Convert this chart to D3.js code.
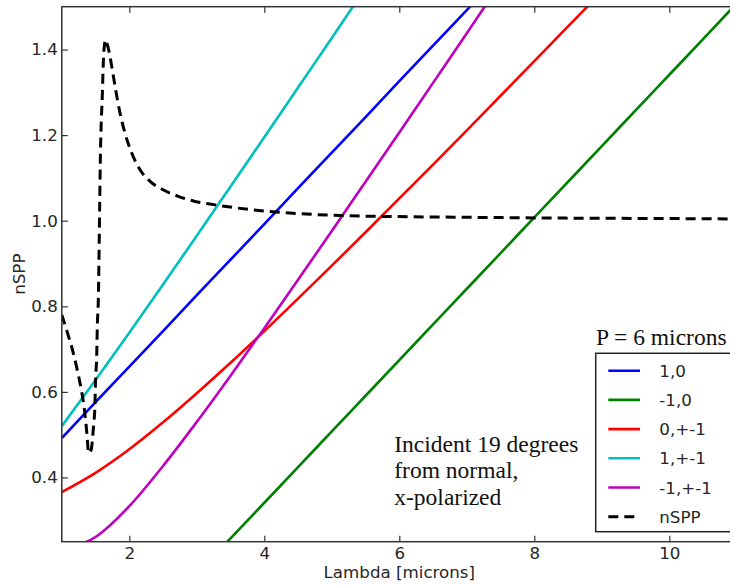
<!DOCTYPE html>
<html>
<head>
<meta charset="utf-8">
<script src="https://cdn.jsdelivr.net/npm/d3@7"></script>
<style>
  body { margin: 0; background: #fff; }
  svg { display: block; }
</style>
</head>
<body>
<script>
// Rayleigh anomaly orders vs SPP index, P = 6 microns grating

// wavelength samples (microns) shared by the diffraction orders
const lambda = [1, 1.5, 2, 2.5, 3, 3.5, 4, 4.5, 5, 5.5, 6, 6.5, 7, 7.5, 8, 8.5, 9, 9.5, 10, 10.5, 11];

// order values
const order10    = [0.492, 0.576, 0.659, 0.742, 0.826, 0.909, 0.992, 1.076, 1.159, 1.242, 1.326, 1.409, 1.492, 1.576];
const orderM10   = [0.159, 0.076, 0.008, 0.091, 0.174, 0.258, 0.341, 0.424, 0.508, 0.591, 0.674, 0.758, 0.841, 0.924, 1.008, 1.091, 1.174, 1.258, 1.341, 1.424, 1.508];
const order0pm1  = [0.366, 0.411, 0.466, 0.529, 0.597, 0.668, 0.742, 0.818, 0.895, 0.973, 1.052, 1.131, 1.211, 1.292, 1.373, 1.454, 1.535];
const order1pm1  = [0.520, 0.628, 0.738, 0.851, 0.965, 1.080, 1.195, 1.311, 1.427, 1.544];
const orderM1pm1 = [0.230, 0.261, 0.333, 0.427, 0.530, 0.638, 0.749, 0.862, 0.976, 1.091, 1.206, 1.322, 1.438, 1.555];

// SPP effective index
const nsppLambda = [1.00, 1.08, 1.16, 1.22, 1.28, 1.33, 1.37, 1.393, 1.433, 1.47, 1.49, 1.50, 1.517, 1.526, 1.541, 1.561, 1.570, 1.581, 1.600, 1.615, 1.630, 1.650,
  1.699, 1.748, 1.798, 1.862, 1.936, 2.036, 2.159, 2.307, 2.480, 2.726, 2.973, 3.27, 3.79, 4.38, 5.12, 5.81, 7.0, 8.5, 10.0, 11.0];
const nsppValues = [0.780, 0.740, 0.697, 0.658, 0.612, 0.565, 0.505, 0.457, 0.464, 0.520, 0.566, 0.628, 0.683, 0.753, 0.815, 1.033, 1.135, 1.213, 1.291, 1.369, 1.408, 1.423,
  1.396, 1.353, 1.306, 1.252, 1.205, 1.158, 1.119, 1.092, 1.074, 1.057, 1.045, 1.037, 1.026, 1.018, 1.012, 1.010, 1.008, 1.006, 1.005, 1.004];

const seriesNames  = ["1,0", "-1,0", "0,+-1", "1,+-1", "-1,+-1", "nSPP"];
const seriesColors = ["#0000ff", "#008000", "#ff0000", "#00bfbf", "#bf00bf", "#000000"];

const xTicks = [2, 4, 6, 8, 10];
const yTicks = [0.4, 0.6, 0.8, 1.0, 1.2, 1.4];

// chart dimensions (right edge runs past the window, as in the original)
const margin = { top: 6.7, left: 61.8 };
const width = 675;
const height = 535;

const svg = d3.select("body")
  .append("svg")
  .attr("width", 730)
  .attr("height", 585);

const g = svg.append("g")
  .attr("transform", "translate(" + margin.left + "," + margin.top + ")");

const xScale = d3.scaleLinear().domain([1, 11]).range([0, width]);
const yScale = d3.scaleLinear().domain([0.25, 1.5]).range([height, 0]);

g.append("clipPath")
  .attr("id", "plot-clip")
  .append("rect")
  .attr("width", width)
  .attr("height", height);

const line = d3.line()
  .x(d => xScale(d[0]))
  .y(d => yScale(d[1]))
  .curve(d3.curveMonotoneX);

const orders = [order10, orderM10, order0pm1, order1pm1, orderM1pm1];

const plot = g.append("g").attr("clip-path", "url(#plot-clip)");

orders.forEach(function(vals, i) {
  const pts = vals.map((v, j) => [lambda[j], v]);
  plot.append("path")
    .attr("d", line(pts))
    .attr("fill", "none")
    .attr("stroke", seriesColors[i])
    .attr("stroke-width", 2.6);
});

// nSPP: smooth pieces between the dip and the peak, kept as one path so the dashes run on
const nsppPts = nsppLambda.map((l, j) => [l, nsppValues[j]]);
const iMin = nsppValues.indexOf(d3.min(nsppValues));
const iPeak = nsppValues.indexOf(d3.max(nsppValues));
const nsppPath = [[0, iMin], [iMin, iPeak], [iPeak, nsppPts.length - 1]]
  .map((s, k) => {
    const d = line(nsppPts.slice(s[0], s[1] + 1));
    return k ? d.replace(/^M/, "L") : d;
  })
  .join("");

plot.append("path")
  .attr("d", nsppPath)
  .attr("fill", "none")
  .attr("stroke", "#000")
  .attr("stroke-width", 3)
  .attr("stroke-dasharray", "10,6");

// axes, ticks pointing inwards
const font = "'DejaVu Sans', sans-serif";

const xAxis = d3.axisBottom(xScale).tickValues(xTicks).tickSizeInner(-6).tickSizeOuter(0).tickPadding(5.4);
const xAxisTop = d3.axisTop(xScale).tickValues(xTicks).tickSizeInner(-6).tickSizeOuter(0).tickFormat("");
const yAxis = d3.axisLeft(yScale).tickValues(yTicks).tickSizeInner(-6).tickSizeOuter(0).tickPadding(4)
  .tickFormat(d3.format(".1f"));

function styleAxis(sel) {
  sel.select(".domain").remove();
  sel.selectAll(".tick line").attr("stroke", "#333").attr("stroke-width", 1.2);
  sel.selectAll(".tick text")
    .attr("fill", "#262626")
    .style("font-family", font)
    .style("font-size", "16.7px");
}

g.append("g").attr("transform", "translate(0," + height + ")").call(xAxis).call(styleAxis);
g.append("g").call(xAxisTop).call(styleAxis);
g.append("g").call(yAxis).call(styleAxis);

g.append("rect")
  .attr("width", width)
  .attr("height", height)
  .attr("fill", "none")
  .attr("stroke", "#333")
  .attr("stroke-width", 1.5);

// axis labels
svg.append("text")
  .attr("x", margin.left + width / 2)
  .attr("y", 578.3)
  .attr("text-anchor", "middle")
  .attr("fill", "#262626")
  .style("font-family", font)
  .style("font-size", "16.7px")
  .text("Lambda [microns]");

svg.append("text")
  .attr("transform", "translate(25," + (margin.top + height / 2) + ") rotate(-90)")
  .attr("text-anchor", "middle")
  .attr("fill", "#262626")
  .style("font-family", font)
  .style("font-size", "16.7px")
  .text("nSPP");

// legend
const legend = svg.append("g").attr("transform", "translate(595.7,353.3)");

legend.append("rect")
  .attr("width", 160)
  .attr("height", 178.4)
  .attr("fill", "#fff")
  .attr("stroke", "#222")
  .attr("stroke-width", 1.5);

const rows = legend.selectAll(".legend-row")
  .data(seriesNames)
  .enter().append("g")
  .attr("class", "legend-row")
  .attr("transform", (d, i) => "translate(0," + (17.4 + i * 29.2) + ")");

rows.append("line")
  .attr("x1", 12.6)
  .attr("x2", 44.3)
  .attr("stroke", (d, i) => seriesColors[i])
  .attr("stroke-width", (d, i) => i === 5 ? 3 : 2.6)
  .attr("stroke-dasharray", (d, i) => i === 5 ? "10,6" : null);

rows.append("text")
  .attr("x", 63.6)
  .attr("dy", "0.36em")
  .attr("fill", "#262626")
  .style("font-family", font)
  .style("font-size", "16.7px")
  .text(d => d);

// annotations
const serif = "'Liberation Serif', 'Times New Roman', serif";

svg.append("text")
  .attr("x", 596)
  .attr("y", 345)
  .attr("fill", "#111")
  .style("font-family", serif)
  .style("font-size", "23.5px")
  .text("P = 6 microns");

const note = ["Incident 19 degrees", "from normal,", "x-polarized"];
svg.selectAll(".note")
  .data(note)
  .enter().append("text")
  .attr("class", "note")
  .attr("x", 394.3)
  .attr("y", (d, i) => 451.7 + i * 26.7)
  .attr("fill", "#111")
  .style("font-family", serif)
  .style("font-size", "23.5px")
  .text(d => d);
</script>
</body>
</html>
